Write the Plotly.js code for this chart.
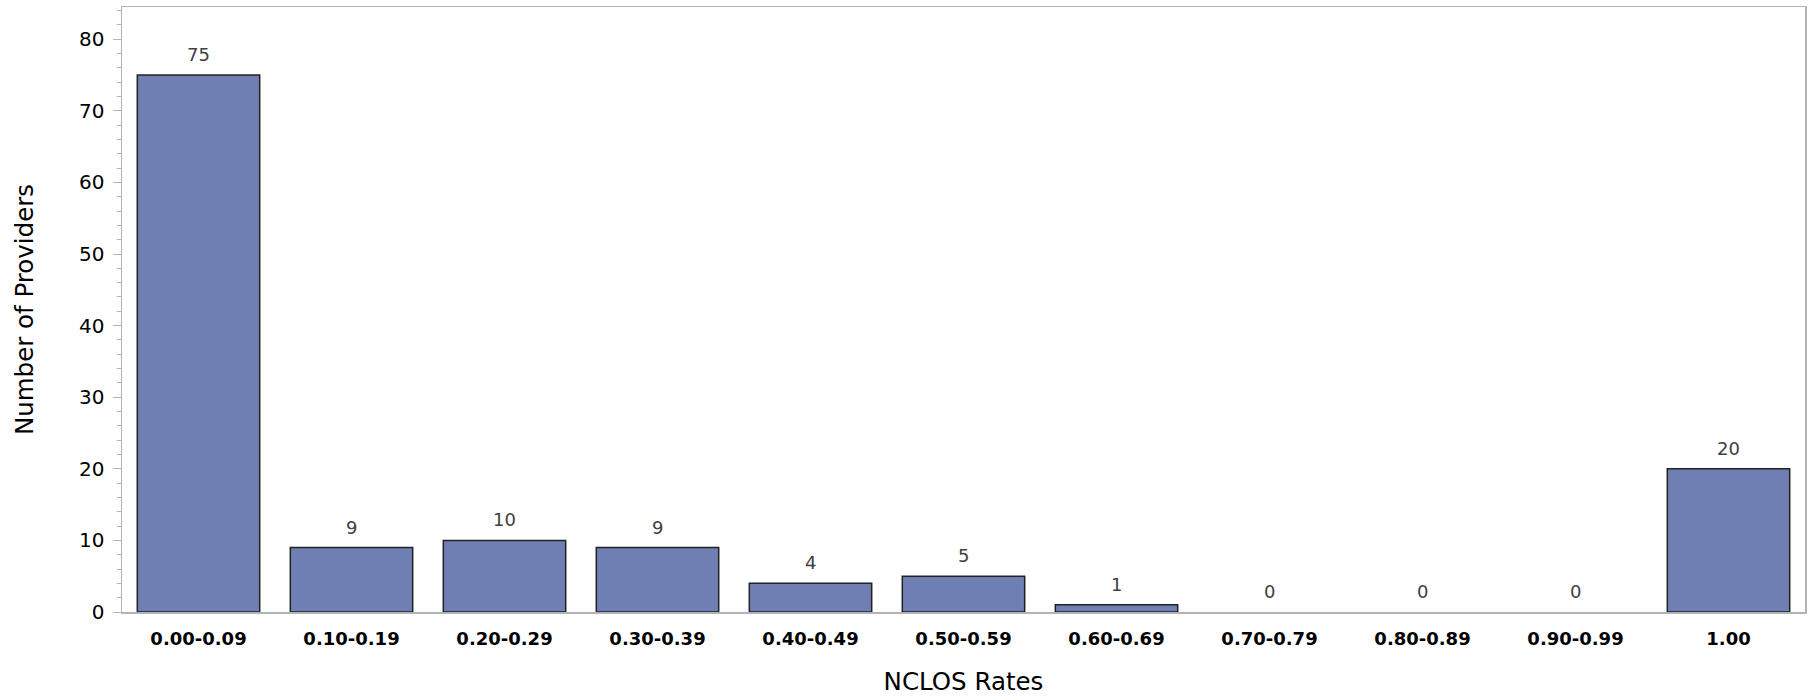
<!DOCTYPE html>
<html>
<head>
<meta charset="utf-8">
<script src="https://cdn.plot.ly/plotly-3.0.1.min.js"></script>
<style>html,body{margin:0;padding:0;background:#fff;}#chart{width:1812px;height:697px;}</style>
</head>
<body>
<div id="chart"></div>
<script>
const categories = ["0.00-0.09","0.10-0.19","0.20-0.29","0.30-0.39","0.40-0.49","0.50-0.59","0.60-0.69","0.70-0.79","0.80-0.89","0.90-0.99","1.00"];
const providers = [75, 9, 10, 9, 4, 5, 1, 0, 0, 0, 20];
const yTicks = [0, 10, 20, 30, 40, 50, 60, 70, 80];

const trace = {
  type: 'bar',
  x: categories,
  y: providers,
  marker: {
    color: '#6F7EB3',
    line: {color: '#222222', width: providers.map(v => v > 0 ? 1.5 : 0)}
  },
  hoverinfo: 'skip'
};

// category axis: annotations placed by category index
const annotations = categories.map((c, i) => ({
  x: i, y: providers[i], xref: 'x', yref: 'y',
  text: String(providers[i]),
  showarrow: false, yanchor: 'bottom', yshift: 8,
  font: {family: 'DejaVu Sans', size: 18, color: '#404040'}
}));

const layout = {
  width: 1812, height: 697,
  margin: {l: 122, r: 7, t: 7, b: 85},
  paper_bgcolor: '#ffffff', plot_bgcolor: '#ffffff',
  bargap: 0.2,
  showlegend: false,
  annotations: annotations,
  xaxis: {
    type: 'category',
    range: [-0.5, 10.5],
    showline: true, linecolor: '#b0b4b8', linewidth: 1.5, mirror: true,
    ticks: '', showgrid: false, zeroline: false,
    tickfont: {family: 'DejaVu Sans', size: 18, color: '#000000', weight: 'bold'},
    ticklabelstandoff: 10,
    title: {text: 'NCLOS Rates', font: {family: 'DejaVu Sans', size: 24.5, color: '#000000'}, standoff: 25}
  },
  yaxis: {
    range: [0, 84.5],
    tickvals: yTicks,
    ticktext: yTicks.map(String),
    showline: true, linecolor: '#b0b4b8', linewidth: 1.5, mirror: true,
    ticks: 'outside', ticklen: 8, tickcolor: '#b0b4b8', tickwidth: 1,
    minor: {dtick: 2, ticks: 'outside', ticklen: 4, tickcolor: '#b0b4b8', tickwidth: 1},
    showgrid: false, zeroline: false,
    tickfont: {family: 'DejaVu Sans', size: 20, color: '#000000'},
    ticklabelstandoff: 4,
    title: {text: 'Number of Providers', font: {family: 'DejaVu Sans', size: 24.5, color: '#000000'}, standoff: 38}
  }
};

Plotly.newPlot('chart', [trace], layout, {displayModeBar: false, staticPlot: true});
</script>
</body>
</html>
